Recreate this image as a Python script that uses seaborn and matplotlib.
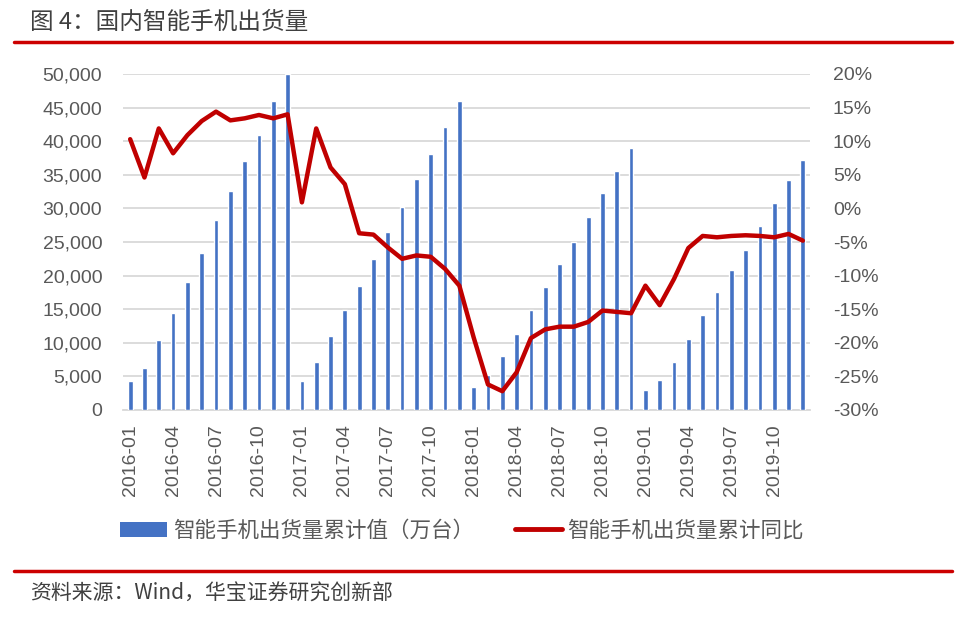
import numpy as np
import pandas as pd
import matplotlib
matplotlib.use("Agg")
import matplotlib.pyplot as plt
import seaborn as sns
from matplotlib.lines import Line2D
from matplotlib.patches import Patch
from matplotlib.ticker import FuncFormatter, FixedLocator

months = [f"{y}-{m:02d}" for y in range(2016, 2020) for m in range(1, 13)]
shipments = [4330, 6320, 10450, 14480, 19100, 23430, 28210, 32540, 37010, 40900, 45970, 50000,
             4330, 7160, 11040, 14930, 18510, 22540, 26420, 30150, 34330, 38060, 42090, 45970,
             3430, 5220, 8060, 11340, 14930, 18360, 21790, 24930, 28660, 32240, 35520, 38960,
             2990, 4480, 7160, 10600, 14180, 17610, 20900, 23880, 27310, 30750, 34180, 37160]
yoy = [10.3, 4.6, 11.9, 8.2, 10.9, 13.0, 14.4, 13.1, 13.4, 13.9, 13.4, 14.0,
       0.9, 11.9, 6.1, 3.6, -3.7, -3.9, -5.8, -7.5, -7.0, -7.2, -9.0, -11.5,
       -19.2, -26.2, -27.2, -24.4, -19.3, -18.0, -17.6, -17.6, -16.9, -15.2, -15.4, -15.6,
       -11.5, -14.4, -10.5, -5.9, -4.1, -4.3, -4.1, -4.0, -4.1, -4.3, -3.8, -4.8]
bar_label = "智能手机出货量累计值（万台）"
line_label = "智能手机出货量累计同比"
title = "图 4：国内智能手机出货量"
source = "资料来源：Wind，华宝证券研究创新部"

df = pd.DataFrame({"month": months, "shipments": shipments, "yoy": yoy})
df["idx"] = np.arange(len(df))

sns.set_theme(style="white")
plt.rcParams['font.family'] = ['Liberation Sans', 'Noto Sans CJK SC', 'DejaVu Sans']

BLUE = "#4472C4"
RED = "#C00000"
GRID = "#D9D9D9"
TXT = "#595959"

fig = plt.figure(figsize=(9.72, 6.21), dpi=100)
ax = fig.add_axes([123/972, 1-410/621, 687/972, 336/621])

sns.barplot(data=df, x="month", y="shipments", color=BLUE, width=0.33, ax=ax,
            saturation=1, zorder=3)
ax.set_ylim(0, 50000)
ax.set_xlim(-0.5, len(df)-0.5)
ax.set_yticks(np.arange(0, 50001, 5000))
ax.yaxis.set_major_formatter(FuncFormatter(lambda v, p: f"{int(v):,}"))
ax.grid(axis="y", color=GRID, linewidth=1.3, zorder=0)
ax.set_axisbelow(True)
for s in ["top", "left", "right"]:
    ax.spines[s].set_visible(False)
ax.spines["bottom"].set_color(GRID)
ax.spines["bottom"].set_linewidth(1.3)
ax.set_xlabel("")
ax.set_ylabel("")
ax.set_xticks(np.arange(0, len(df), 3))
ax.set_xticklabels(months[::3], rotation=90)
ax.xaxis.set_minor_locator(FixedLocator(np.arange(-0.5, len(df), 3)))
ax.tick_params(axis="x", which="major", length=0, pad=10, labelsize=14, labelcolor=TXT)
ax.tick_params(axis="x", which="minor", length=7, width=1.3, color=GRID)
ax.tick_params(axis="y", length=0, labelsize=14, labelcolor=TXT, pad=15)

ax2 = ax.twinx()
sns.lineplot(data=df, x="idx", y="yoy", color=RED, linewidth=3.2, ax=ax2, zorder=4)
ax2.set_ylim(-30, 20)
ax2.set_xlim(-0.5, len(df)-0.5)
ax2.set_yticks(np.arange(-30, 21, 5))
ax2.yaxis.set_major_formatter(FuncFormatter(lambda v, p: f"{int(v)}%"))
ax2.tick_params(axis="y", length=0, labelsize=14, labelcolor=TXT, pad=16.5)
ax2.set_ylabel("")
ax2.set_xlabel("")
for s in ["top", "left", "right", "bottom"]:
    ax2.spines[s].set_visible(False)

handles = [Patch(facecolor=BLUE, edgecolor="none", label=bar_label),
           Line2D([0], [0], color=RED, linewidth=3.5, label=line_label)]
fig.legend(handles=handles, loc="center", bbox_to_anchor=(462/972, 1-531/621), ncol=2,
           frameon=False, handlelength=2.2, handletextpad=0.25,
           columnspacing=1.9, labelcolor=TXT,
           prop={'family': ['Noto Sans CJK SC', 'DejaVu Sans'], 'size': 15.5})

fig.text(30/972, 1-22/621, title, fontsize=17, color="#404040", va="center", ha="left",
         family=['Noto Sans CJK SC', 'DejaVu Sans'])
fig.add_artist(Line2D([14/972, 952/972], [1-42/621, 1-42/621], color="#CC0000", linewidth=2.5))
fig.add_artist(Line2D([14/972, 952/972], [1-571/621, 1-571/621], color="#CC0000", linewidth=2.5))
fig.text(30/972, 1-594/621, source, fontsize=15, color="#404040", va="center", ha="left",
         family=['Noto Sans CJK SC', 'DejaVu Sans'])

fig.savefig("out.png", dpi=100)
